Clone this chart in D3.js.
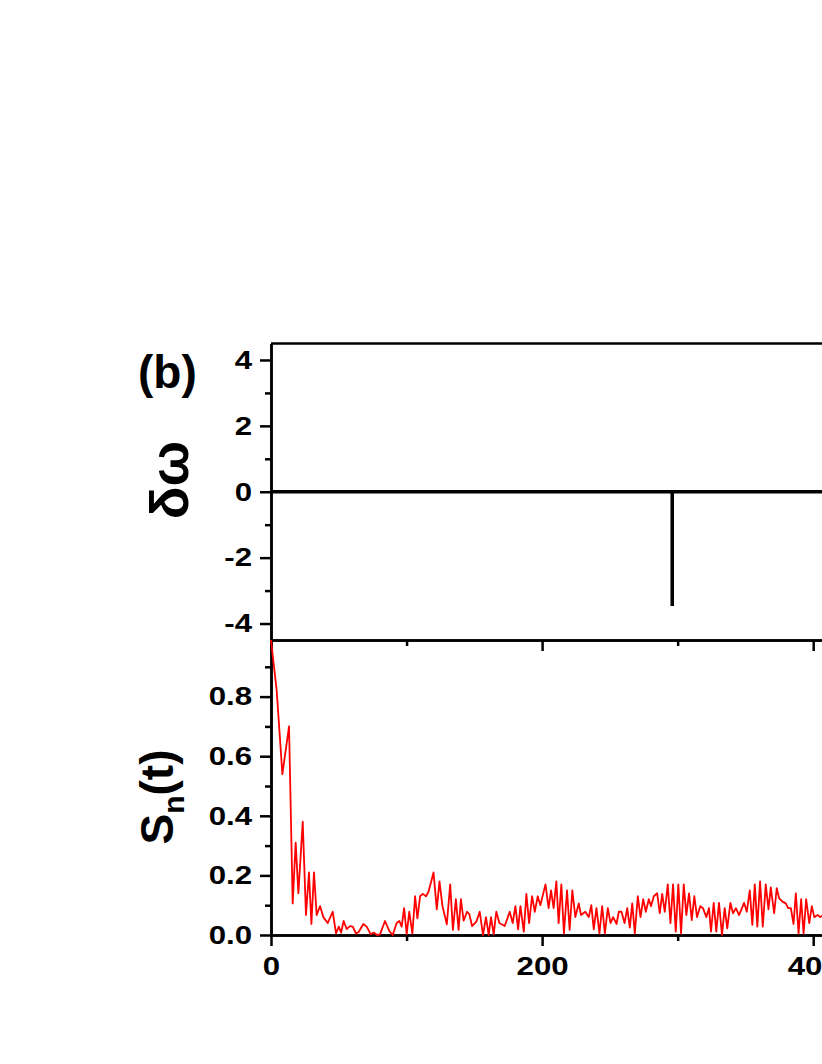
<!DOCTYPE html>
<meta charset="utf-8">
<script src="https://d3js.org/d3.v7.min.js"></script>
<style>
  body { margin: 0; padding: 0; background: #fff; overflow: hidden; }
  svg { display: block; }
  .tick text { font-family: "Liberation Sans", Arial, sans-serif; font-weight: bold; font-size: 26px; fill: #000; }
  .lab { font-family: "Liberation Sans", Arial, sans-serif; font-weight: bold; font-size: 46px; fill: #000; }
</style>
<div id="chart"></div>
<script>
// top panel: delta omega vs t
const dwT = [0, 296, 296, 296, 600];
const dwV = [0, 0, -3.47, 0, 0];

// bottom panel: S_n(t)
const snT = [0, 4.2, 8.4, 13.3, 16, 18.2, 20.2, 23.4, 25.8, 28, 29.8, 31.7, 33.7, 36.2, 38.6, 41.8, 45.5, 48, 50, 51.7,
  53.6, 55.8, 58.3, 60.3, 62.7, 64.7, 68.1, 70.6, 73.5, 76, 78, 80.4, 84.1, 87.3, 89.8, 92.7, 94.7, 96.4, 98.2, 100.1,
  102, 104.3, 106.3, 108, 110, 112, 114.4, 116.2, 119.9, 122.3, 124.3, 126.5, 129.7, 132.2, 134.2, 136.4, 138.4, 140.1,
  142.1, 144.6, 146.3, 148.3, 151.5, 154, 156.4, 158.6, 160.6, 162.3, 164.3, 166.2, 168.5, 172.4, 176.1, 178.3, 180.3,
  182.3, 184, 186.5, 188.4, 190.4, 192.6, 194.6, 196.8, 198.7, 202.5, 204.8, 206.6, 208.5, 210.5, 212.2, 214.2, 216.1,
  218.4, 220.3, 222.3, 224.5, 227, 228.7, 231.9, 234.4, 236.3, 238.1, 240.1, 242.3, 244.3, 246.3, 248.5, 250.5, 252.4,
  254.9, 256.6, 258.6, 260.8, 262.8, 264.7, 266.5, 268.4, 270.6, 272.6, 274.6, 276.5, 278.7, 280.4, 282.4, 284.9, 286.8,
  288.6, 290.5, 292.7, 294.7, 296.6, 298.6, 300.5, 302.5, 304.5, 306.4, 308.4, 310.4, 312.3, 314.3, 316.7, 318.7, 321.2,
  323.1, 324.6, 326.6, 328.5, 330.5, 332.7, 334.7, 336.6, 338.9, 340.8, 343, 345.3, 349, 351, 353.2, 355.1, 356.9, 358.8,
  360.8, 362.8, 365, 367, 368.7, 371.2, 373.1, 374.9, 377.3, 379.8, 381.5, 383.5, 385.5, 387.2, 389.2, 391.1, 392.9,
  394.8, 397.1, 399, 400.8, 403.3, 405.2, 407.2, 410];
const snV = [0.99, 0.82, 0.54, 0.70, 0.106, 0.31, 0.14, 0.38, 0.067, 0.21, 0.037, 0.21, 0.067, 0.097, 0.06, 0.04, 0.078, 0.005, 0.028, 0.008,
  0.047, 0.02, 0.03, 0.028, 0.005, 0.01, 0.037, 0.028, 0.003, 0.008, 0, 0.002, 0.047, 0.013, 0, 0.04, 0.047, 0.028, 0.09, 0.003,
  0.078, 0.005, 0.13, 0.056, 0.13, 0.138, 0.13, 0.145, 0.21, 0.086, 0.18, 0.097, 0.036, 0.17, 0.017, 0.12, 0.017, 0.12,
  0.048, 0.078, 0.07, 0.03, 0.045, 0.078, 0, 0.06, 0, 0.06, 0.002, 0.078, 0.04, 0.03, 0.078, 0.04, 0.097,
  0.019, 0.097, 0.011, 0.138, 0.04, 0.13, 0.078, 0.13, 0.1, 0.17, 0.09, 0.15, 0.09, 0.18, 0.04, 0.17, 0.005,
  0.15, 0.017, 0.15, 0.06, 0.106, 0.067, 0.078, 0.06, 0.1, 0.019, 0.09, 0.005, 0.097, 0.005, 0.09, 0.04, 0.06,
  0.037, 0.078, 0.078, 0.04, 0.09, 0.025, 0.106, 0.005, 0.13, 0.06, 0.12, 0.078, 0.12, 0.097, 0.13, 0.14, 0.073,
  0.138, 0.078, 0.17, 0.04, 0.17, 0.011, 0.17, 0.005, 0.17, 0.067, 0.14, 0.05, 0.13, 0.06, 0.097, 0.09, 0.06,
  0.09, 0.011, 0.108, 0.011, 0.108, 0, 0.09, 0.022, 0.108, 0.073, 0.09, 0.067, 0.108, 0.078, 0.15, 0.034, 0.17, 0.028,
  0.18, 0.028, 0.17, 0.086, 0.16, 0.073, 0.157, 0.123, 0.112, 0.106, 0.09, 0.09, 0.037, 0.14, 0.005, 0.12, 0.005,
  0.12, 0.04, 0.097, 0.06, 0.067, 0.06, 0.067, 0.07];

const xMajor = [0, 200, 400, 600];
const xMinor = [100, 300, 500];
const dwMajor = [-4, -2, 0, 2, 4];
const dwMinor = [-3, -1, 1, 3];
const snMajor = [0, 0.2, 0.4, 0.6, 0.8];
const snMinor = [0.1, 0.3, 0.5, 0.7, 0.9];

const W = 822, H = 1064;
const left = 271, topY = 343.5, midY = 640, botY = 935;
const stretch = 1.2; // tick digits in the original are wider than Arial

const svg = d3.select("#chart").append("svg").attr("width", W).attr("height", H);
svg.append("rect").attr("width", W).attr("height", H).attr("fill", "#fff");

const x = d3.scaleLinear().domain([0, 600]).range([left, left + 600 * 1.3555]);
const yTop = d3.scaleLinear().domain([-4.5, 4.5]).range([midY, topY]);
const yBot = d3.scaleLinear().domain([0, 0.99]).range([botY, midY]);

const hyphen = f => d => f(d).replace("\u2212", "-");

function styleAxis(g) {
  g.select(".domain").attr("stroke", "#000").attr("stroke-width", 2.5);
  g.selectAll(".tick line").attr("stroke", "#000").attr("stroke-width", 2.5);
}
function stretchLeft(g) {
  g.selectAll(".tick text").attr("x", -19 / stretch).attr("transform", `scale(${stretch},1)`);
}
function stretchBottom(g) {
  g.selectAll(".tick text").attr("transform", `scale(${stretch},1)`);
}

// top border of upper panel
svg.append("line").attr("x1", left).attr("x2", W).attr("y1", topY).attr("y2", topY)
  .attr("stroke", "#000").attr("stroke-width", 2.5);

// upper panel left axis
svg.append("g").attr("transform", `translate(${left},0)`)
  .call(d3.axisLeft(yTop).tickValues(dwMinor).tickSize(6).tickSizeOuter(0).tickFormat(""))
  .call(styleAxis);
svg.append("g").attr("transform", `translate(${left},0)`)
  .call(d3.axisLeft(yTop).tickValues(dwMajor).tickSize(11).tickSizeOuter(0).tickPadding(8).tickFormat(hyphen(d3.format("d"))))
  .call(styleAxis).call(stretchLeft);

// lower panel left axis
svg.append("g").attr("transform", `translate(${left},0)`)
  .call(d3.axisLeft(yBot).tickValues(snMinor).tickSize(6).tickSizeOuter(0).tickFormat(""))
  .call(styleAxis);
svg.append("g").attr("transform", `translate(${left},0)`)
  .call(d3.axisLeft(yBot).tickValues(snMajor).tickSize(11).tickSizeOuter(0).tickPadding(8).tickFormat(d3.format(".1f")))
  .call(styleAxis).call(stretchLeft);

// shared boundary axis (no labels) and bottom axis
[midY, botY].forEach((yy, i) => {
  svg.append("g").attr("transform", `translate(0,${yy})`)
    .call(d3.axisBottom(x).tickValues(xMinor).tickSize(6).tickSizeOuter(0).tickFormat(""))
    .call(styleAxis);
  svg.append("g").attr("transform", `translate(0,${yy})`)
    .call(d3.axisBottom(x).tickValues(xMajor).tickSize(11).tickSizeOuter(0).tickPadding(11)
      .tickFormat(i === 1 ? d3.format("d") : ""))
    .call(styleAxis).call(stretchBottom);
});

// delta omega line
svg.append("path")
  .datum(dwT.map((t, i) => [t, dwV[i]]))
  .attr("fill", "none").attr("stroke", "#000").attr("stroke-width", 3.5)
  .attr("d", d3.line().x(d => x(d[0])).y(d => yTop(d[1])));

// S_n(t) line
svg.append("path")
  .datum(snT.map((t, i) => [t, snV[i]]))
  .attr("fill", "none").attr("stroke", "#ff0000").attr("stroke-width", 1.8)
  .attr("stroke-linejoin", "round")
  .attr("d", d3.line().x(d => x(d[0])).y(d => yBot(d[1])));

// labels
svg.append("text").attr("class", "lab").attr("x", 138).attr("y", 388).text("(b)");
svg.append("text").attr("class", "lab").attr("text-anchor", "middle").style("font-size", "54px")
  .attr("transform", "translate(188,480) rotate(-90)").text("δω");
const sl = svg.append("text").attr("class", "lab").attr("text-anchor", "middle")
  .attr("transform", "translate(173,797) rotate(-90)");
sl.append("tspan").text("S");
sl.append("tspan").style("font-size", "30px").attr("dy", 11).text("n");
sl.append("tspan").attr("dy", -11).text("(t)");
</script>
